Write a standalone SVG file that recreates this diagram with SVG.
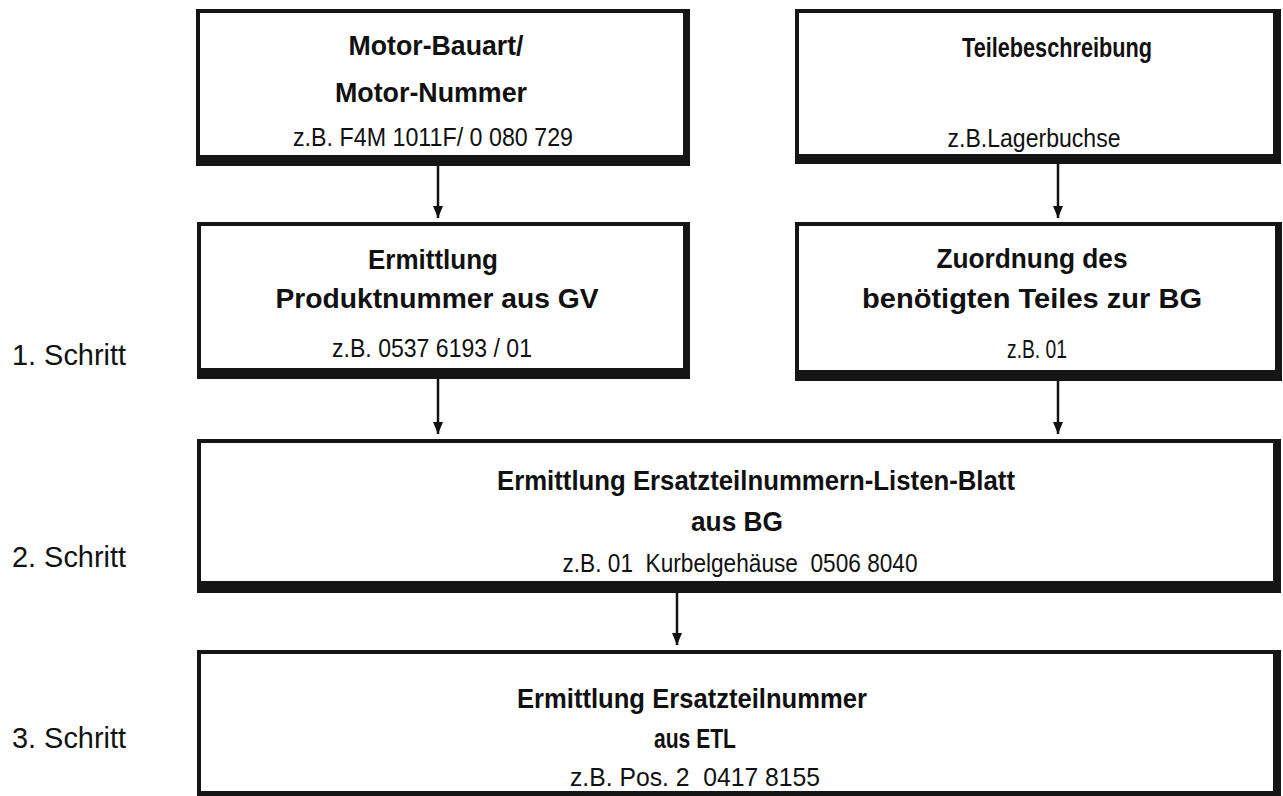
<svg xmlns="http://www.w3.org/2000/svg" width="1283" height="796" viewBox="0 0 1283 796">
<defs>
<style>
.frame{fill:#151515}
.inner{fill:#ffffff}
.b{font-family:"Liberation Sans Narrow","Liberation Sans",Arial,sans-serif;font-weight:bold;font-size:28px;fill:#111;text-anchor:middle}
.r{font-family:"Liberation Sans Narrow","Liberation Sans",Arial,sans-serif;font-size:25px;fill:#111;text-anchor:middle;white-space:pre}
.s{font-family:"Liberation Sans Narrow","Liberation Sans",Arial,sans-serif;font-size:29px;fill:#111}
.c{stroke:#111;stroke-width:2.5;fill:none}
</style>
<marker id="ah" viewBox="0 0 12 10" refX="12" refY="5" markerWidth="12" markerHeight="10" markerUnits="userSpaceOnUse" orient="auto">
<path d="M0,0 L12,5 L0,10 Z" fill="#111"/>
</marker>
</defs>
<rect width="1283" height="796" fill="#ffffff"/>

<g id="node-motor">
<rect class="frame" x="196" y="9" width="494" height="157"/>
<rect class="inner" x="200" y="13" width="483" height="142"/>
<text class="b" x="436" y="55" textLength="175" lengthAdjust="spacingAndGlyphs">Motor-Bauart/</text>
<text class="b" x="431" y="102" textLength="192" lengthAdjust="spacingAndGlyphs">Motor-Nummer</text>
<text class="r" x="433" y="146" textLength="280" lengthAdjust="spacingAndGlyphs">z.B. F4M 1011F/ 0 080 729</text>
</g>

<g id="node-teile">
<rect class="frame" x="795" y="9" width="486" height="155"/>
<rect class="inner" x="799" y="13" width="474" height="141"/>
<text class="b" x="1057" y="57" textLength="190" lengthAdjust="spacingAndGlyphs">Teilebeschreibung</text>
<text class="r" x="1034" y="147" textLength="173" lengthAdjust="spacingAndGlyphs">z.B.Lagerbuchse</text>
</g>

<g id="node-produkt">
<rect class="frame" x="197" y="222" width="493" height="157"/>
<rect class="inner" x="201" y="226" width="482" height="142"/>
<text class="b" x="433" y="269" textLength="130" lengthAdjust="spacingAndGlyphs">Ermittlung</text>
<text class="b" x="437" y="308" textLength="323" lengthAdjust="spacingAndGlyphs">Produktnummer aus GV</text>
<text class="r" x="432" y="357" textLength="200" lengthAdjust="spacingAndGlyphs">z.B. 0537 6193 / 01</text>
</g>

<g id="node-zuordnung">
<rect class="frame" x="795" y="222" width="487" height="159"/>
<rect class="inner" x="799" y="226" width="476" height="144"/>
<text class="b" x="1032" y="268" textLength="191" lengthAdjust="spacingAndGlyphs">Zuordnung des</text>
<text class="b" x="1032" y="308" textLength="340" lengthAdjust="spacingAndGlyphs">benötigten Teiles zur BG</text>
<text class="r" x="1037" y="358" textLength="60" lengthAdjust="spacingAndGlyphs">z.B. 01</text>
</g>

<g id="node-liste">
<rect class="frame" x="197" y="439" width="1084" height="154"/>
<rect class="inner" x="201" y="443" width="1072" height="138"/>
<text class="b" x="756" y="490" textLength="518" lengthAdjust="spacingAndGlyphs">Ermittlung Ersatzteilnummern-Listen-Blatt</text>
<text class="b" x="737" y="531" textLength="92" lengthAdjust="spacingAndGlyphs">aus BG</text>
<text class="r" x="740" y="572" textLength="355" lengthAdjust="spacingAndGlyphs" xml:space="preserve">z.B. 01  Kurbelgehäuse  0506 8040</text>
</g>

<g id="node-etl">
<rect class="frame" x="197" y="650" width="1084" height="146"/>
<rect class="inner" x="201" y="654" width="1072" height="137"/>
<text class="b" x="692" y="708" textLength="350" lengthAdjust="spacingAndGlyphs">Ermittlung Ersatzteilnummer</text>
<text class="b" x="695" y="748" textLength="82" lengthAdjust="spacingAndGlyphs">aus ETL</text>
<text class="r" x="695" y="786" textLength="250" lengthAdjust="spacingAndGlyphs" xml:space="preserve">z.B. Pos. 2  0417 8155</text>
</g>

<g id="step-labels">
<text class="s" x="12" y="365" textLength="114" lengthAdjust="spacingAndGlyphs">1. Schritt</text>
<text class="s" x="12" y="567" textLength="114" lengthAdjust="spacingAndGlyphs">2. Schritt</text>
<text class="s" x="12" y="748" textLength="114" lengthAdjust="spacingAndGlyphs">3. Schritt</text>
</g>

<g id="connectors">
<line class="c" x1="438" y1="166" x2="438" y2="218" marker-end="url(#ah)"/>
<line class="c" x1="1058" y1="164" x2="1058" y2="218" marker-end="url(#ah)"/>
<line class="c" x1="438" y1="379" x2="438" y2="434" marker-end="url(#ah)"/>
<line class="c" x1="1058" y1="381" x2="1058" y2="434" marker-end="url(#ah)"/>
<line class="c" x1="677" y1="593" x2="677" y2="645" marker-end="url(#ah)"/>
</g>
</svg>
